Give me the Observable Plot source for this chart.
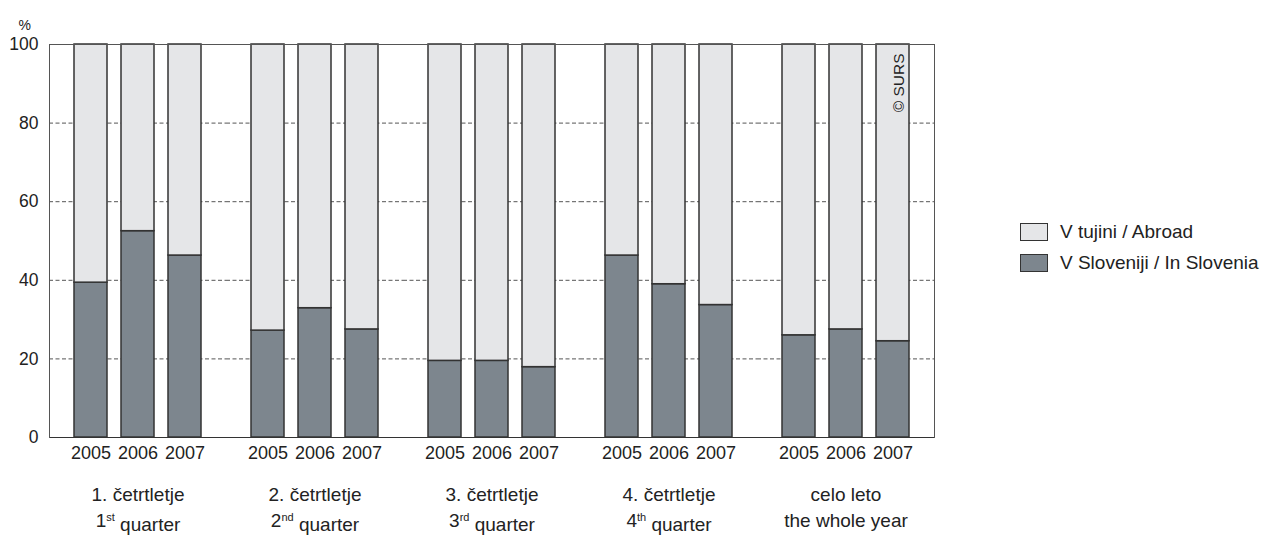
<!DOCTYPE html>
<html>
<head>
<meta charset="utf-8">
<script src="https://cdn.jsdelivr.net/npm/d3@7"></script>
<script src="https://cdn.jsdelivr.net/npm/@observablehq/plot@0.6"></script>
<style>
  html, body { margin: 0; padding: 0; background: #fff; overflow: hidden; }
  #wrap { position: relative; width: 1279px; height: 535px; font-family: "Liberation Sans", Arial, sans-serif; color: #222; }
  #legend { position: absolute; left: 1020px; top: 216px; font-size: 19px; }
  #legend .item { display: flex; align-items: center; height: 31px; white-space: nowrap; }
  #legend .sw { width: 28px; height: 18px; border: 1.5px solid #333; margin-right: 12px; box-sizing: border-box; }
</style>
</head>
<body>
<div id="wrap">
  <div id="chart"></div>
  <div id="legend"></div>
</div>
<script>
// ---- data ----
const groupsSl = ["1. četrtletje", "2. četrtletje", "3. četrtletje", "4. četrtletje", "celo leto"];
const groupsEn = ["1st quarter", "2nd quarter", "3rd quarter", "4th quarter", "the whole year"];
const years = ["2005", "2006", "2007"];
const seriesNames = ["V Sloveniji / In Slovenia", "V tujini / Abroad"];
const seriesColors = ["#7d868e", "#e5e6e8"];
// per group, per year (2005, 2006, 2007)
const inSlovenia = [39.4, 52.5, 46.3, 27.2, 32.9, 27.5, 19.5, 19.5, 17.9, 46.3, 39.0, 33.7, 26.0, 27.5, 24.5];
const abroad     = [60.6, 47.5, 53.7, 72.8, 67.1, 72.5, 80.5, 80.5, 82.1, 53.7, 61.0, 66.3, 74.0, 72.5, 75.5];
const yTicks = [0, 20, 40, 60, 80, 100];
const gridTicks = [20, 40, 60, 80];
const copyright = "© SURS";

// ---- table ----
const rows = [];
[inSlovenia, abroad].forEach((vals, s) => {
  groupsSl.forEach((g, gi) => {
    years.forEach((y, yi) => {
      rows.push({group: g, year: y, series: seriesNames[s], value: vals[gi * years.length + yi]});
    });
  });
});
const yearLabels = [];
groupsSl.forEach(g => years.forEach(y => yearLabels.push({group: g, year: y})));
const groupLabels = groupsSl.map((g, i) => ({group: g, sl: g, en: groupsEn[i]}));

const ink = "#222";
const chart = Plot.plot({
  width: 1279,
  height: 535,
  marginLeft: 48,
  marginRight: 345,
  marginTop: 44,
  marginBottom: 98,
  style: {fontFamily: "'Liberation Sans', Arial, sans-serif", fontSize: "14px", color: ink, background: "white"},
  fx: {domain: groupsSl, padding: 0, axis: null},
  x: {domain: years, paddingInner: 0.29, paddingOuter: 0.49, axis: null},
  y: {domain: [0, 100], axis: null},
  color: {domain: seriesNames, range: seriesColors},
  marks: [
    Plot.gridY(gridTicks, {stroke: "#555", strokeOpacity: 1, strokeDasharray: "4,2.5"}),
    Plot.barY(rows, {fx: "group", x: "year", y: "value", fill: "series", stroke: "#333", strokeWidth: 1.5}),
    Plot.frame({anchor: "top", stroke: "#555"}),
    Plot.frame({anchor: "bottom", stroke: "#333"}),
    Plot.frame({anchor: "left", stroke: "#555", facetAnchor: "left"}),
    Plot.frame({anchor: "right", stroke: "#555", facetAnchor: "right"}),
    Plot.axisY(yTicks, {tickSize: 0, tickPadding: 11, fontSize: 17.5, fill: ink, label: null}),
    Plot.text(["%"], {fx: () => groupsSl[0], frameAnchor: "top-left", dx: -31, dy: -24, fontSize: 14, fill: ink}),
    Plot.text(yearLabels, {fx: "group", x: "year", text: "year", frameAnchor: "bottom", dy: 21.5, fontSize: 18, fill: ink}),
    Plot.text(groupLabels, {fx: "group", text: "sl", frameAnchor: "bottom", dy: 63, fontSize: 19, fill: ink}),
    Plot.text(groupLabels, {fx: "group", text: "en", frameAnchor: "bottom", dy: 89, fontSize: 19, fill: ink}),
    Plot.text([copyright], {fx: () => groupsSl[groupsSl.length - 1], x: () => years[years.length - 1], frameAnchor: "top", rotate: -90, textAnchor: "end", dy: 9, fontSize: 15.5, fill: ink})
  ]
});

// superscript ordinals
d3.select(chart).selectAll("text").each(function() {
  const t = this.textContent;
  const m = /^(\d+)(st|nd|rd|th)( .*)$/.exec(t);
  if (m && this.children.length === 0) {
    const el = d3.select(this);
    el.text(null);
    el.append("tspan").text(m[1]);
    el.append("tspan").attr("dy", "-0.5em").attr("font-size", 11).text(m[2]);
    el.append("tspan").attr("dy", "0.5em").text(m[3]);
  }
});
document.getElementById("chart").append(chart);

// legend (top to bottom: Abroad, In Slovenia)
const legend = d3.select("#legend");
[1, 0].forEach(i => {
  const item = legend.append("div").attr("class", "item");
  item.append("div").attr("class", "sw").style("background", seriesColors[i]);
  item.append("span").text(seriesNames[i]);
});
</script>
</body>
</html>
